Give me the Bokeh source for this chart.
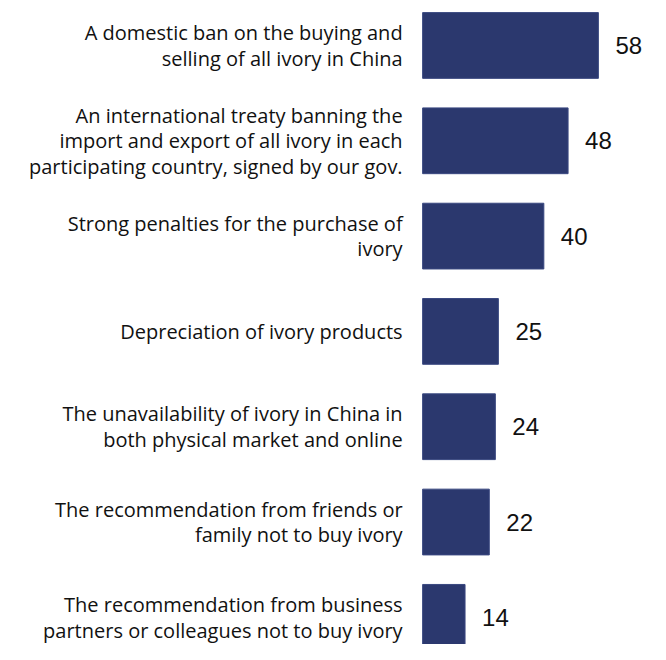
from bokeh.plotting import figure
from bokeh.models import ColumnDataSource, Range1d
from bokeh.core.properties import value
from bokeh.embed import file_html
from bokeh.resources import INLINE

categories = [
    "A domestic ban on the buying and\nselling of all ivory in China",
    "An international treaty banning the\nimport and export of all ivory in each\nparticipating country, signed by our gov.",
    "Strong penalties for the purchase of\nivory",
    "Depreciation of ivory products",
    "The unavailability of ivory in China in\nboth physical market and online",
    "The recommendation from friends or\nfamily not to buy ivory",
    "The recommendation from business\npartners or colleagues not to buy ivory",
]
values = [58, 48, 40, 25, 24, 22, 14]

pos = list(range(len(categories)))
src = ColumnDataSource(dict(y=pos, v=values, cat=categories, zero=[0] * len(pos),
                            lbl=[str(v) for v in values]))

p = figure(width=650, height=644, output_backend="svg", toolbar_location=None,
           x_range=Range1d(-139.3, 75.2), y_range=Range1d(6.285, -0.472),
           min_border=0, outline_line_color=None)
p.axis.visible = False
p.grid.visible = False
p.background_fill_color = "white"
p.border_fill_color = "white"

p.hbar(y="y", left="zero", right="v", height=0.69, source=src,
       fill_color="#2b386e", line_color="#3a4880", line_width=1)

p.text(x="zero", y="y", text="cat", source=src, x_offset=-20,
       text_align="right", text_baseline="middle",
       text_font=value("Open Sans"), text_font_size="20px",
       text_line_height=0.95, text_color="#111111")

p.text(x="v", y="y", text="lbl", source=src, x_offset=17,
       text_align="left", text_baseline="middle",
       text_font=value("Liberation Sans"), text_font_size="24px",
       text_color="#111111")

open("out.html", "w").write(file_html(p, INLINE))
